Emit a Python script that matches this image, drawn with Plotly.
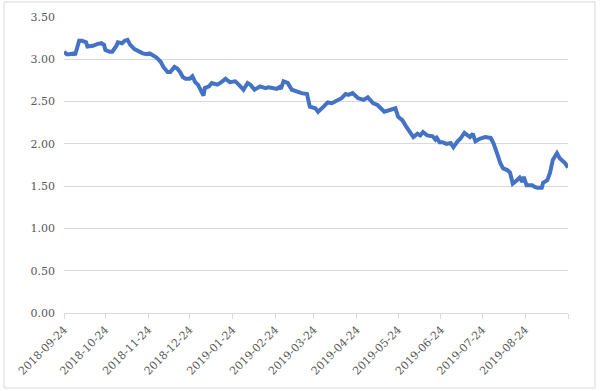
import plotly.graph_objects as go

dates = [
    "2018-09-24", "2018-09-26", "2018-09-28", "2018-10-01", "2018-10-02", "2018-10-05", "2018-10-07",
    "2018-10-10", "2018-10-11", "2018-10-15", "2018-10-18", "2018-10-21", "2018-10-23", "2018-10-24",
    "2018-10-27", "2018-10-29", "2018-11-01", "2018-11-02", "2018-11-05", "2018-11-07", "2018-11-09",
    "2018-11-11", "2018-11-14", "2018-11-17", "2018-11-20", "2018-11-23", "2018-11-25", "2018-11-27",
    "2018-11-30", "2018-12-03", "2018-12-05", "2018-12-08", "2018-12-10", "2018-12-13", "2018-12-15",
    "2018-12-17", "2018-12-19", "2018-12-21", "2018-12-24", "2018-12-26", "2018-12-28", "2018-12-30",
    "2018-12-31", "2019-01-03", "2019-01-04", "2019-01-07", "2019-01-09", "2019-01-13", "2019-01-16",
    "2019-01-19", "2019-01-22", "2019-01-26", "2019-01-28", "2019-02-01", "2019-02-04", "2019-02-06",
    "2019-02-09", "2019-02-13", "2019-02-17", "2019-02-19", "2019-02-22", "2019-02-25", "2019-02-27",
    "2019-02-28", "2019-03-02", "2019-03-05", "2019-03-08", "2019-03-12", "2019-03-15", "2019-03-19",
    "2019-03-21", "2019-03-25", "2019-03-27", "2019-03-31", "2019-04-03", "2019-04-06", "2019-04-10",
    "2019-04-13", "2019-04-16", "2019-04-18", "2019-04-21", "2019-04-25", "2019-04-29", "2019-05-02",
    "2019-05-06", "2019-05-09", "2019-05-14", "2019-05-18", "2019-05-22", "2019-05-24", "2019-05-27",
    "2019-05-30", "2019-06-02", "2019-06-04", "2019-06-07", "2019-06-09", "2019-06-11", "2019-06-14",
    "2019-06-18", "2019-06-20", "2019-06-21", "2019-06-23", "2019-06-25", "2019-06-28", "2019-07-01",
    "2019-07-03", "2019-07-06", "2019-07-08", "2019-07-11", "2019-07-15", "2019-07-17", "2019-07-19",
    "2019-07-22", "2019-07-26", "2019-07-30", "2019-08-01", "2019-08-04", "2019-08-06", "2019-08-08",
    "2019-08-11", "2019-08-13", "2019-08-15", "2019-08-18", "2019-08-20", "2019-08-22", "2019-08-23",
    "2019-08-25", "2019-08-29", "2019-08-31", "2019-09-02", "2019-09-05", "2019-09-06", "2019-09-09",
    "2019-09-11", "2019-09-13", "2019-09-16", "2019-09-18", "2019-09-22", "2019-09-24",
]

values = [
    3.09, 3.06, 3.06, 3.07, 3.05, 3.22, 3.22,
    3.20, 3.15, 3.16, 3.18, 3.19, 3.17, 3.11,
    3.09, 3.09, 3.16, 3.20, 3.19, 3.22, 3.23,
    3.17, 3.12, 3.09, 3.07, 3.06, 3.07, 3.05,
    3.02, 2.97, 2.91, 2.85, 2.85, 2.91, 2.89,
    2.85, 2.79, 2.77, 2.77, 2.80, 2.73, 2.70,
    2.67, 2.57, 2.66, 2.68, 2.72, 2.70, 2.73,
    2.77, 2.73, 2.74, 2.71, 2.64, 2.72, 2.70,
    2.64, 2.68, 2.66, 2.67, 2.66, 2.65, 2.67,
    2.65, 2.74, 2.72, 2.64, 2.61, 2.60, 2.59,
    2.44, 2.42, 2.38, 2.44, 2.49, 2.48, 2.52,
    2.54, 2.59, 2.58, 2.60, 2.54, 2.52, 2.55,
    2.48, 2.46, 2.38, 2.40, 2.42, 2.32, 2.28,
    2.20, 2.12, 2.08, 2.12, 2.10, 2.14, 2.10,
    2.09, 2.05, 2.07, 2.02, 2.02, 2.00, 2.01,
    1.96, 2.03, 2.06, 2.13, 2.08, 2.12, 2.03,
    2.06, 2.08, 2.07, 2.01, 1.87, 1.77, 1.71,
    1.69, 1.66, 1.53, 1.57, 1.60, 1.55, 1.61,
    1.51, 1.51, 1.49, 1.48, 1.48, 1.54, 1.57,
    1.66, 1.81, 1.89, 1.83, 1.77, 1.72,
]

x_ticks = [
    "2018-09-24", "2018-10-24", "2018-11-24", "2018-12-24", "2019-01-24", "2019-02-24",
    "2019-03-24", "2019-04-24", "2019-05-24", "2019-06-24", "2019-07-24", "2019-08-24",
]
y_ticks = [0, 0.5, 1.0, 1.5, 2.0, 2.5, 3.0, 3.5]
y_labels = ["0.00", "0.50", "1.00", "1.50", "2.00", "2.50", "3.00", "3.50"]

fig = go.Figure()
fig.add_trace(go.Scatter(
    x=dates, y=values, mode="lines",
    line=dict(color="#4472C4", width=4),
    hoverinfo="x+y",
))

font = dict(family="DejaVu Serif, Liberation Serif, serif", size=11, color="#595959")

fig.update_layout(
    width=600, height=391,
    margin=dict(l=64, r=32, t=17, b=78),
    paper_bgcolor="white", plot_bgcolor="white",
    showlegend=False,
    font=font,
    xaxis=dict(
        type="date",
        range=["2018-09-24", "2019-09-24"],
        tickvals=x_ticks + ["2019-09-24"],
        ticktext=x_ticks + [""],
        tickangle=-45,
        ticks="outside", ticklen=5, tickcolor="#d9d9d9",
        showline=True, linecolor="#d9d9d9", linewidth=1,
        showgrid=False, zeroline=False,
        tickfont=font,
    ),
    yaxis=dict(
        range=[0, 3.5],
        tickvals=y_ticks, ticktext=y_labels,
        showgrid=True, gridcolor="#d9d9d9", gridwidth=1,
        zeroline=False, showline=False,
        ticks="", ticklabelstandoff=8,
        tickfont=font,
    ),
    shapes=[dict(
        type="rect", xref="paper", yref="paper",
        x0=-0.119, x1=1.0536, y0=-0.2534, y1=1.0507,
        line=dict(color="#d9d9d9", width=1), fillcolor="rgba(0,0,0,0)",
        layer="below",
    )],
)

fig.write_html(
    "out.html",
    config={"displayModeBar": False},
    post_script="document.body.style.margin='0';",
)
